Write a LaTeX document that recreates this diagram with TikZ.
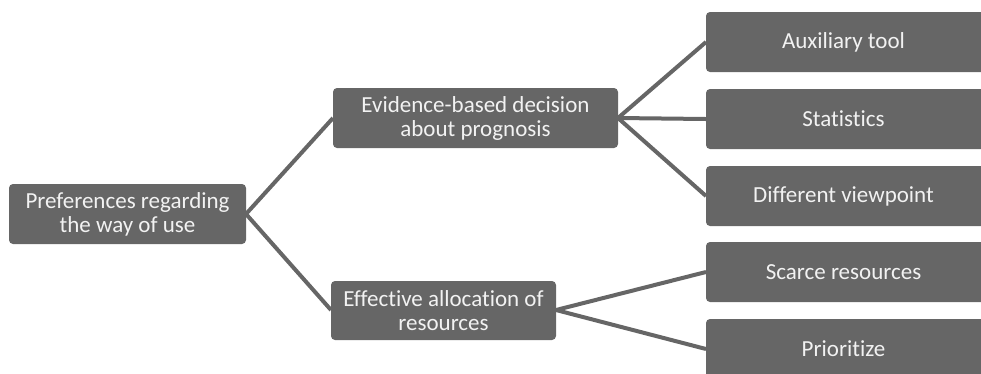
\documentclass[tikz,border=0pt]{standalone}
\usepackage{fontspec}
\setmainfont{Carlito}[Ligatures={NoCommon}]
\definecolor{boxgray}{HTML}{666666}
\definecolor{txt}{HTML}{F2F2F2}
\begin{document}
\begin{tikzpicture}[x=1pt,y=-1pt,
  box/.style={fill=boxgray, rounded corners=4pt, text=txt, align=center,
    font=\fontsize{23}{24}\selectfont, inner sep=0pt},
  label/.style={box, fill=none},
  link/.style={draw=boxgray, line width=4pt}]
\useasboundingbox (0,0) rectangle (981,373);
\clip (0,0) rectangle (981,373);
% connector end points on the box edges
\coordinate (root-e) at (246,214);
\coordinate (evid-w) at (333,118);
\coordinate (evid-e) at (618,118);
\coordinate (eff-w) at (331,310);
\coordinate (eff-e) at (556,310);
\coordinate (aux-w) at (706,42);
\coordinate (stat-w) at (706,119);
\coordinate (diff-w) at (706,196);
\coordinate (scar-w) at (706,272);
\coordinate (prio-w) at (706,349);
% connectors first, boxes on top
\draw[link] (root-e) -- (evid-w);
\draw[link] (root-e) -- (eff-w);
\draw[link] (evid-e) -- (aux-w);
\draw[link] (evid-e) -- (stat-w);
\draw[link] (evid-e) -- (diff-w);
\draw[link] (eff-e) -- (scar-w);
\draw[link] (eff-e) -- (prio-w);
% boxes and their texts
\path[box] (9,184) rectangle (246,244);
\node[label] (root) at (127.5,214) {Preferences regarding\\the way of use};
\path[box] (333,88) rectangle (618,148);
\node[label] (evid) at (475.5,118) {Evidence-based decision\\about prognosis};
\path[box] (331,281) rectangle (556,340);
\node[label] (eff) at (443.5,310.5) {Effective allocation of\\resources};
\path[box] (706,12) rectangle (990,72);
\node[label] (aux) at (843.5,42) {Auxiliary tool};
\path[box] (706,89) rectangle (990,149);
\node[label] (stat) at (843.5,119) {Statistics};
\path[box] (706,166) rectangle (990,226);
\node[label] (diff) at (843.5,196) {Different viewpoint};
\path[box] (706,242) rectangle (990,302);
\node[label] (scar) at (843.5,272) {Scarce resources};
\path[box] (706,319) rectangle (990,379);
\node[label] (prio) at (843.5,349) {Prioritize};
\end{tikzpicture}
\end{document}
